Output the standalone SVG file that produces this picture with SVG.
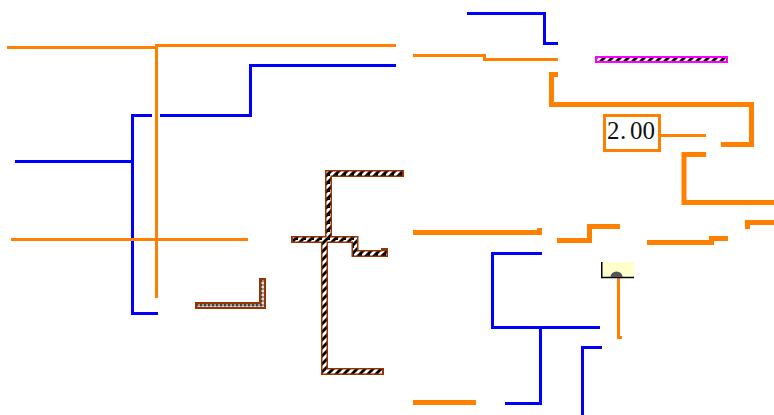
<svg xmlns="http://www.w3.org/2000/svg" width="774" height="415" viewBox="0 0 774 415">
<style>
.w{fill:none;stroke-linejoin:miter;stroke-linecap:butt}
.b{stroke:#0000ff;stroke-width:3}
.o{stroke:#ff8000;stroke-width:3}
.ot{stroke:#ff8000;stroke-width:5}
.br{stroke:#993300;stroke-width:7}
.h{stroke:url(#hatch);stroke-width:4}
.hg{stroke:url(#hatchGray);stroke-width:3}
.num{font-family:"Liberation Serif",serif;font-size:25px;fill:#111}
</style>
<defs>
<pattern id="hatch" width="8" height="8" patternUnits="userSpaceOnUse">
<rect width="8" height="8" fill="#fff"/>
<path d="M-2 6L6 -2L10 -2L2 6L2 10L-2 10ZM4 8L8 4L12 4L4 12Z" fill="#000"/>
</pattern>
<pattern id="hatchGray" width="4" height="4" patternUnits="userSpaceOnUse">
<rect width="4" height="4" fill="#999"/>
<rect width="2" height="2" fill="#444"/>
<rect x="2" y="2" width="2" height="2" fill="#ddd"/>
</pattern>
</defs>
<g id="connectors">
<path class="w o" d="M7 47.5H156"/>
<path class="w o" d="M396 45.5H156.500V298"/>
<path class="w b" d="M396 65.5H250.500V115.500H160"/>
<path class="w b" d="M152 115.500H132.500V313.500H158"/>
<path class="w b" d="M15 161.500H132"/>
<path class="w o" d="M11 239.500H248"/>
<path class="w br" d="M195 305.500H262.500V278"/>
<path class="w hg" d="M197 305.500H262.500V280"/>
<path class="w br" d="M404 173.500H328.500V239"/>
<path class="w br" d="M291 239.500H355V253.500H384.500V248"/>
<path class="w br" d="M324.500 240V371.500H384"/>
<path class="w h" d="M402 173.500H328.500V239"/>
<path class="w h" d="M293 239.500H355V253.500H384.500V251"/>
<path class="w h" d="M324.500 240V371.500H382"/>
<path class="w b" d="M467 13.500H544.500V43.500H558"/>
<path class="w o" d="M413 55.500H484.500V59.500H558"/>
<path class="w ot" d="M558 74.500H551.500V104.500H751.500V144.500H721"/>
<path class="w o" d="M661 135.500H706"/>
<path class="w ot" d="M706 154.500H684V202.500H774"/>
<path class="w ot" d="M413 232.500H539.500V228"/>
<path class="w ot" d="M557 240.500H589.500V226.500H620"/>
<path class="w ot" d="M647 242.500H711.500V238.500H728"/>
<path class="w ot" d="M747.500 229V222.500H774"/>
<path class="w b" d="M542 253.500H492.500V327.500H600"/>
<path class="w b" d="M540.500 327.500V403.500H505"/>
<path class="w b" d="M602 347.500H582.500V415"/>
<path class="w ot" d="M413 402.500H476"/>
<path class="w o" d="M618.500 278V337.500H622"/>
</g>
<g id="bar">
<rect x="595" y="56" width="133" height="7" fill="#ff00ff"/>
<rect x="597" y="58" width="129" height="3" fill="url(#hatch)"/>
</g>
<g id="constant">
<rect x="604.500" y="115.500" width="55" height="35" fill="#fff" stroke="#ff8000" stroke-width="3"/>
<text class="num" y="139"><tspan x="607">2</tspan><tspan x="620">.</tspan><tspan x="630">0</tspan><tspan x="642.500">0</tspan></text>
</g>
<g id="indicator">
<rect x="601" y="262" width="33" height="16" fill="#ffffcc"/>
<path d="M601.750 262V277.500H634" fill="none" stroke="#000" stroke-width="1.500"/>
<path d="M610.500 277A6 5.500 0 0 1 622.500 277Z" fill="#555"/>
</g>
</svg>
